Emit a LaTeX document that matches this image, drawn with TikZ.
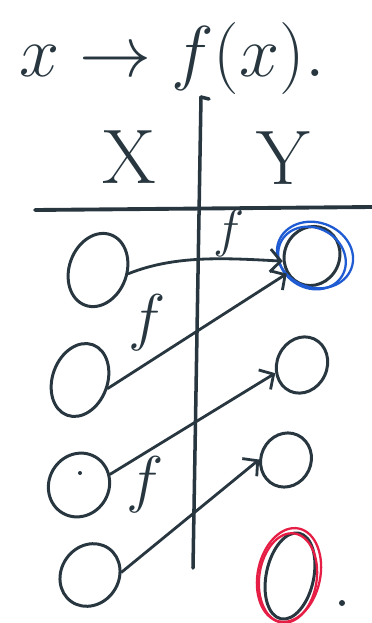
\documentclass[tikz,border=0pt]{standalone}
\usepackage{fix-cm}
\usepackage{amsmath}
\usepackage{amssymb}
\usepackage{tikz}
\usepackage{xcolor}
\usetikzlibrary{shapes.geometric,arrows.meta}

\definecolor{ink}{HTML}{27363F}
\definecolor{penblue}{HTML}{1F5BD2}
\definecolor{penred}{HTML}{E61E45}

\begin{document}
\begin{tikzpicture}[x=0.02cm, y=-0.02cm, line cap=round, line join=round,
  elem/.style={ellipse, draw=ink, line width=1.7pt, inner sep=0pt},
  ring/.style={ellipse, line width=1.3pt, inner sep=0pt},
  map/.style={draw=ink, line width=1.6pt, -{Straight Barb[length=6pt,width=13pt,line width=1.6pt]}},
  fname/.style={text=ink, font=\fontsize{36}{36}\selectfont},
  setname/.style={text=ink, font=\fontsize{44}{44}\selectfont}]

\useasboundingbox[fill=white] (0,0) rectangle (372,623);

\node[text=ink, font=\fontsize{41}{41}\selectfont] (title) at (172,58) {$x \to f(x).$};

\draw[ink, line width=2pt] (201,97) -- (193,568);
\draw[ink, line width=2pt] (201,97) -- (209,99);
\draw[ink, line width=2.2pt] (35,210) -- (372,207);

\node[setname] (X) at (129,157) {X};
\node[setname] (Y) at (283,158) {Y};

\node[elem, minimum width=1.15cm, minimum height=1.5cm, rotate=-20] (x1) at (98,270) {};
\node[elem, minimum width=1.1cm, minimum height=1.5cm, rotate=-20] (x2) at (80,380) {};
\node[elem, minimum width=1.2cm, minimum height=1.3cm, rotate=-30] (x3) at (79,485) {};
\node[elem, minimum width=1.15cm, minimum height=1.3cm, rotate=-35] (x4) at (90,575) {};

\node[elem, minimum width=1.1cm, minimum height=1.2cm, rotate=-25] (y1) at (312,256) {};
\node[ring, draw=penblue, minimum width=1.55cm, minimum height=1.3cm, rotate=-20] (y1a) at (315,255) {};
\node[ring, draw=penblue, minimum width=1.4cm, minimum height=1.2cm, rotate=-30] (y1b) at (312,258) {};
\node[elem, minimum width=1.0cm, minimum height=1.15cm, rotate=-25] (y2) at (302,365) {};
\node[elem, minimum width=1.0cm, minimum height=1.1cm, rotate=-25] (y3) at (286,460) {};
\node[elem, minimum width=0.95cm, minimum height=1.75cm, rotate=-12] (y4) at (290,576) {};
\node[ring, draw=penred, minimum width=1.25cm, minimum height=1.9cm, rotate=-12] (y4a) at (289,575) {};
\node[ring, draw=penred, minimum width=1.15cm, minimum height=1.8cm, rotate=-8] (y4b) at (288,578) {};

\fill[ink] (80,473) circle (2);
\fill[ink] (342,603) circle (3);

\draw[map] (x1.13) .. controls (175,255) and (225,258) .. (y1.215);
\draw[map] (x2.3) -- (y1.240);
\draw[map] (x3.49) -- (y2.222);
\draw[map] (x4.40) -- (y3.204);

\node[fname, font=\fontsize{30}{30}\selectfont] (f1) at (229,233) {$f$};
\node[fname] (f2) at (147,323) {$f$};
\node[fname] (f3) at (145,485) {$f$};
\end{tikzpicture}
\end{document}
